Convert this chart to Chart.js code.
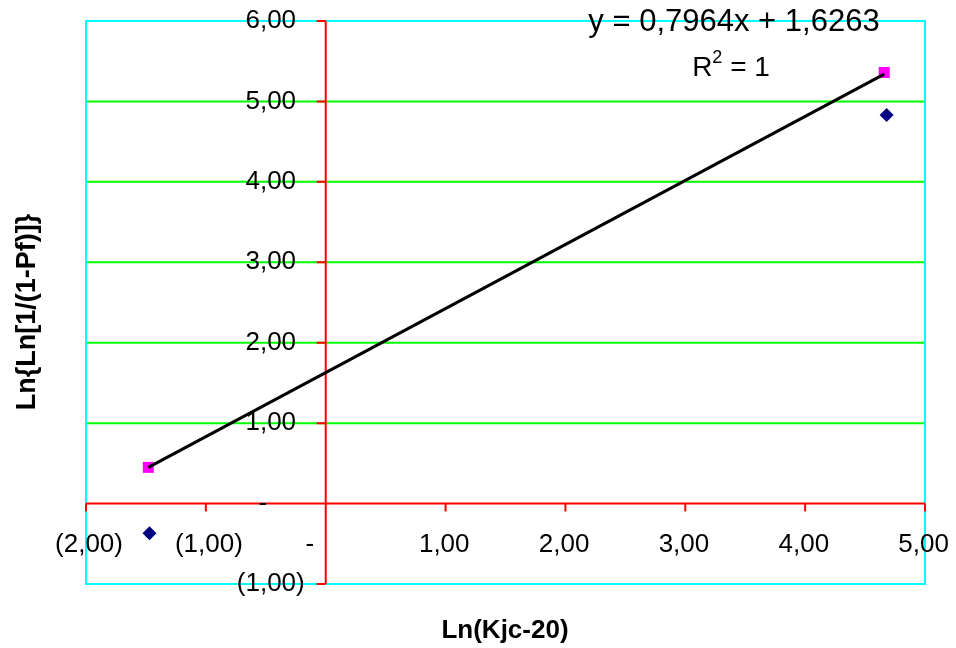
<!DOCTYPE html>
<html lang="en">
<head>
<meta charset="UTF-8">
<title>Ln(Kjc-20)</title>
<script src="https://cdn.jsdelivr.net/npm/chart.js"></script>
<style>
  html, body { margin: 0; padding: 0; background: #fff; }
  #wrap { width: 956px; height: 648px; }
</style>
</head>
<body>
<div id="wrap"><canvas id="chart"></canvas></div>
<script>
  // values
  const xTicks = [-2, -1, 0, 1, 2, 3, 4, 5];
  const yTicks = [-1, 0, 1, 2, 3, 4, 5, 6];
  const gridLines = [1, 2, 3, 4, 5];
  const observedX = [-1.47, 4.68];
  const observedY = [-0.37, 4.83];
  const fittedX = [-1.48, 4.66];
  const fittedY = [0.45, 5.36];
  const trendX = [-1.48, 4.66];
  const trendY = [0.45, 5.34];
  const equation = 'y = 0,7964x + 1,6263';
  const rSquared = '1';
  const xTitle = 'Ln(Kjc-20)';
  const yTitle = 'Ln{Ln[1/(1-Pf)]}';

  const FONT = '"Liberation Sans", Arial, sans-serif';
  const toPoints = (xs, ys) => xs.map((x, i) => ({x: x, y: ys[i]}));

  // excel accounting style: 1,00 / (1,00) / -
  function fmt(v) {
    const s = Math.abs(v).toFixed(2).replace('.', ',');
    if (v < 0) return {text: '(' + s + ')', pad: ''};
    if (v === 0) return {text: '-', pad: '00)'};
    return {text: s, pad: ')'};
  }

  const axesPlugin = {
    id: 'excelAxes',
    beforeDatasetsDraw(chart) {
      const {ctx, chartArea: a, scales: {x, y}} = chart;
      const x0 = x.getPixelForValue(0), y0 = y.getPixelForValue(0);
      ctx.save();
      ctx.lineWidth = 2;

      ctx.strokeStyle = '#00ff00';
      gridLines.forEach(v => {
        const py = y.getPixelForValue(v);
        ctx.beginPath(); ctx.moveTo(a.left, py); ctx.lineTo(a.right, py); ctx.stroke();
      });

      ctx.strokeStyle = '#00ffff';
      ctx.strokeRect(a.left, a.top, a.right - a.left, a.bottom - a.top);

      ctx.strokeStyle = '#ff0000';
      ctx.beginPath();
      ctx.moveTo(a.left, y0); ctx.lineTo(a.right, y0);
      ctx.moveTo(x0, a.top); ctx.lineTo(x0, a.bottom);
      xTicks.forEach(v => {
        const px = x.getPixelForValue(v);
        ctx.moveTo(px, y0); ctx.lineTo(px, y0 + 8);
      });
      yTicks.forEach(v => {
        const py = y.getPixelForValue(v);
        ctx.moveTo(x0 - 9, py); ctx.lineTo(x0, py);
      });
      ctx.stroke();
      ctx.restore();
    },
    afterDatasetsDraw(chart) {
      const {ctx, scales: {x, y}} = chart;
      const x0 = x.getPixelForValue(0), y0 = y.getPixelForValue(0);
      ctx.save();
      ctx.fillStyle = '#000';
      ctx.font = '26px ' + FONT;
      ctx.textBaseline = 'middle';
      ctx.textAlign = 'left';

      yTicks.forEach(v => {
        const f = fmt(v);
        const w = ctx.measureText(f.text).width, pw = ctx.measureText(f.pad).width;
        ctx.fillText(f.text, x0 - 21 - pw - w, y.getPixelForValue(v));
      });
      xTicks.forEach(v => {
        const f = fmt(v);
        const w = ctx.measureText(f.text).width, pw = ctx.measureText(f.pad).width;
        ctx.fillText(f.text, x.getPixelForValue(v) + 3 - (w + pw) / 2, y0 + 41);
      });

      // trendline label
      ctx.font = '31px ' + FONT;
      ctx.textAlign = 'center';
      ctx.fillText(equation, 734, 22);
      ctx.textAlign = 'left';
      ctx.font = '28px ' + FONT;
      const rW = ctx.measureText('R').width, tail = ' = ' + rSquared;
      const tW = ctx.measureText(tail).width;
      ctx.font = '18px ' + FONT;
      const sW = ctx.measureText('2').width;
      const sx = 731 - (rW + sW + tW) / 2;
      ctx.font = '28px ' + FONT;
      ctx.fillText('R', sx, 68);
      ctx.font = '18px ' + FONT;
      ctx.fillText('2', sx + rW, 58);
      ctx.font = '28px ' + FONT;
      ctx.fillText(tail, sx + rW + sW, 68);

      // axis titles
      ctx.textAlign = 'center';
      ctx.font = 'bold 26px ' + FONT;
      ctx.fillText(xTitle, 505, 631);
      ctx.font = 'bold 27px ' + FONT;
      ctx.translate(28, 312);
      ctx.rotate(-Math.PI / 2);
      ctx.fillText(yTitle, 0, 0);
      ctx.restore();
    }
  };

  new Chart(document.getElementById('chart'), {
    type: 'scatter',
    data: {
      datasets: [{
        label: 'Linear (fitted)',
        type: 'line',
        data: toPoints(trendX, trendY),
        borderColor: '#000',
        borderWidth: 3,
        pointRadius: 0,
        fill: false,
        order: 0
      }, {
        label: 'fitted',
        data: toPoints(fittedX, fittedY),
        pointStyle: 'rect',
        pointRadius: 7.8,
        backgroundColor: '#ff00ff',
        borderColor: '#ff00ff',
        borderWidth: 0,
        order: 1
      }, {
        label: 'observed',
        data: toPoints(observedX, observedY),
        pointStyle: 'rectRot',
        pointRadius: 7,
        backgroundColor: '#000080',
        borderColor: '#000080',
        borderWidth: 0,
        order: 2
      }]
    },
    options: {
      responsive: true,
      maintainAspectRatio: false,
      animation: false,
      layout: { padding: { left: 86, right: 31, top: 21, bottom: 64 } },
      plugins: { legend: { display: false }, tooltip: { enabled: false } },
      scales: {
        x: { type: 'linear', min: -2, max: 5, display: false },
        y: { type: 'linear', min: -1, max: 6, display: false }
      }
    },
    plugins: [axesPlugin]
  });
</script>
</body>
</html>
